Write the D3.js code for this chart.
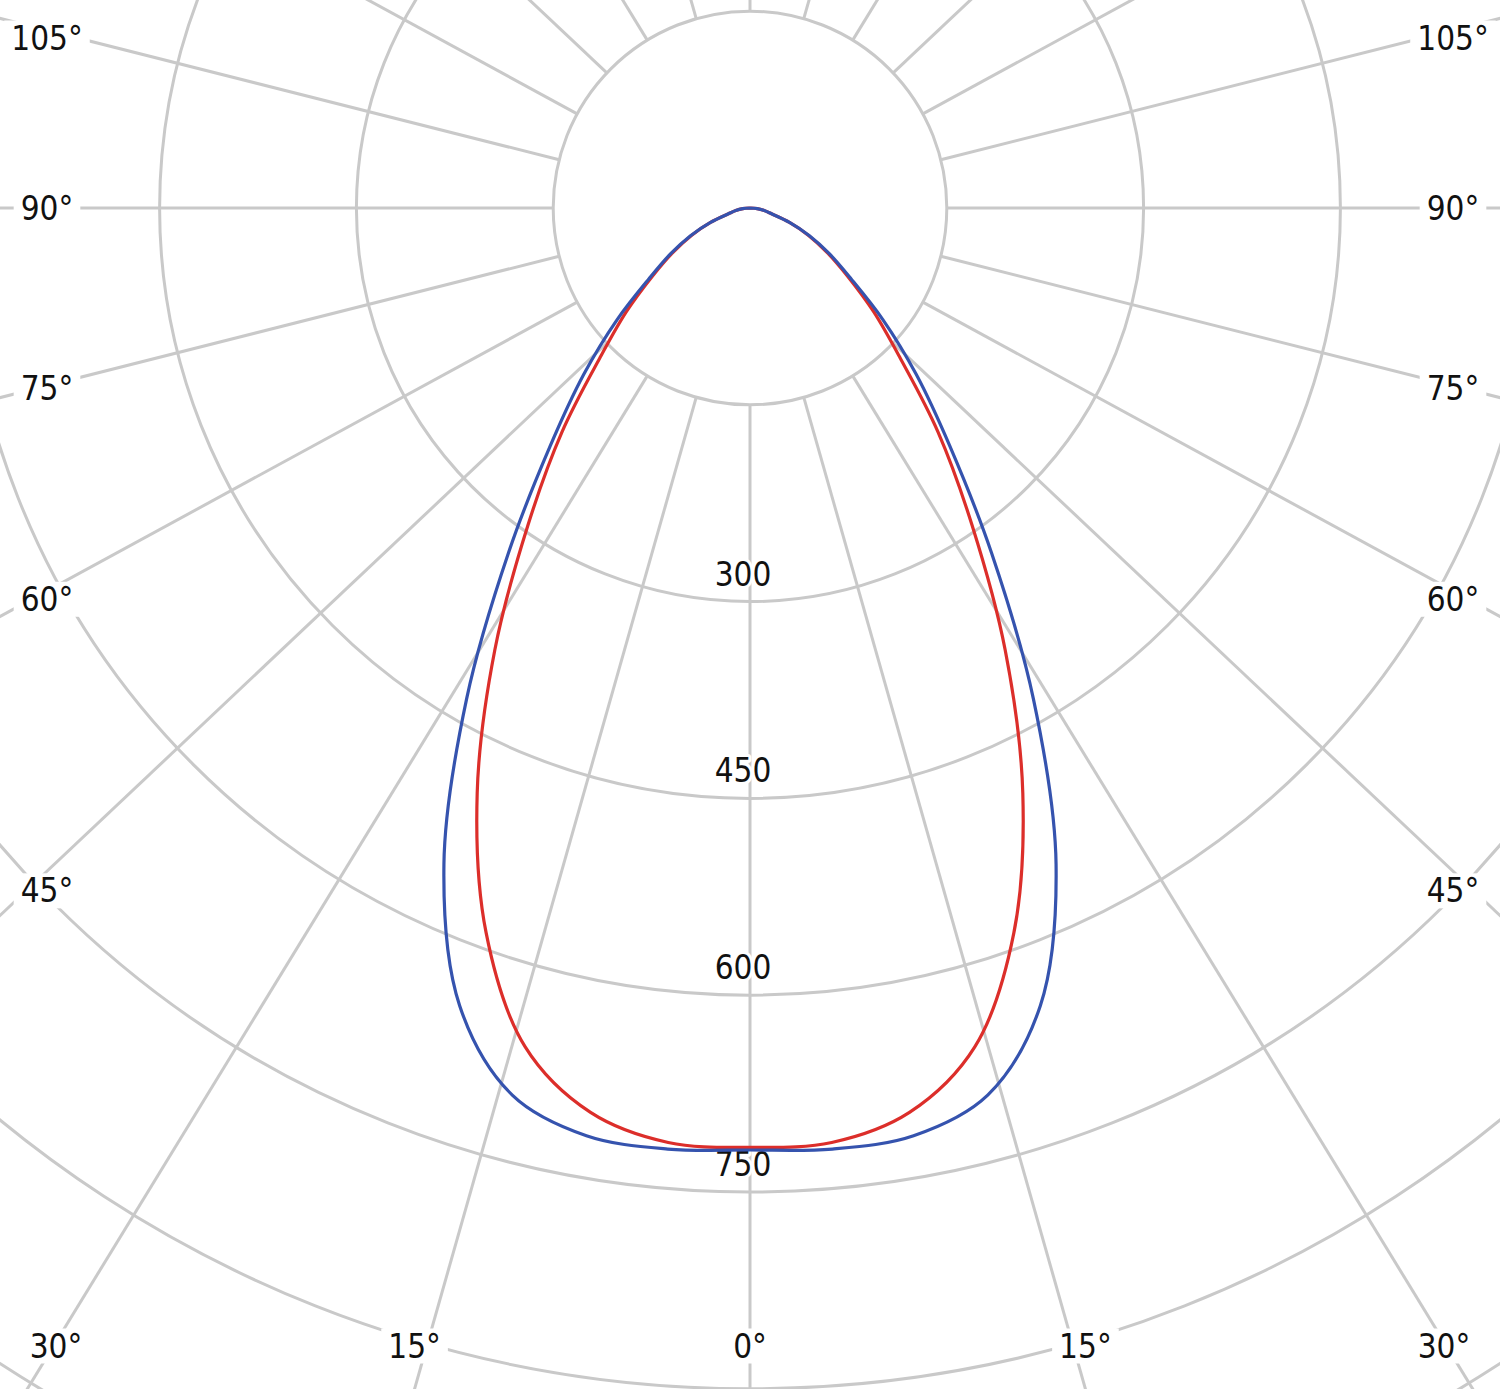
<!DOCTYPE html>
<html>
<head>
<meta charset="utf-8">
<script src="https://cdn.jsdelivr.net/npm/d3@7"></script>
<style>
html,body{margin:0;padding:0;background:#fff;}
svg{display:block;}
text{font-family:"DejaVu Sans Condensed","Liberation Sans",sans-serif;}
</style>
</head>
<body>
<svg id="chart" width="1500" height="1389"></svg>
<script>
// ---- data ----
const gammaAngles = [0,5,10,15,20,25,30,35,40,45,50,55,60,65,70,75,80,85,90];
// C0-C180 plane (blue), cd
const intensityC0 = [718,720,718,700,647,552,432,321,237,179,132,94,70,50,32,17,11,5.5,0];
// C90-C270 plane (red), cd
const intensityC90 = [716,715,700,662,588,492,389,295,223,162,123,91,68,49,32,17,11,5.5,0];
const ringValues = [150,300,450,600,750,900,1050];
const ringLabelValues = [300,450,600,750];
const spokeAngles = d3.range(0,360,15);
const sideLabelAngles = [0,15,30,45,60,75,90,105];

// ---- layout ----
const W = 1500, H = 1389;
const cx = 750, cy = 208;
const r = d3.scaleLinear().domain([0,150]).range([0,196.8]);
const gridColor = "#c9c9c9";
const skew = 1.06; // spoke direction aspect as seen in the reference

const svg = d3.select("#chart");
svg.append("rect").attr("width",W).attr("height",H).attr("fill","#fff");
const g = svg.append("g").attr("transform",`translate(${cx},${cy})`);

// rings
g.append("g").selectAll("circle").data(ringValues).join("circle")
  .attr("r", d => r(d)).attr("fill","none")
  .attr("stroke",gridColor).attr("stroke-width",3);

// spokes: angle measured from the downward vertical, positive to the right
function dir(phiDeg){
  const p = phiDeg*Math.PI/180;
  const dx = skew*Math.sin(p), dy = Math.cos(p);
  const n = Math.hypot(dx,dy);
  return [dx/n, dy/n];
}
const r0 = r(150), rFar = 2200;
g.append("g").selectAll("line").data(spokeAngles).join("line")
  .attr("x1", d => dir(d)[0]*r0).attr("y1", d => dir(d)[1]*r0)
  .attr("x2", d => dir(d)[0]*rFar).attr("y2", d => dir(d)[1]*rFar)
  .attr("stroke",gridColor).attr("stroke-width",3);

// ring labels along the 0° axis
const ringLab = g.append("g");
ringLabelValues.forEach(v => {
  ringLab.append("text")
    .attr("x",-7).attr("y", r(v)-16)
    .attr("text-anchor","middle")
    .attr("font-size",33)
    .attr("fill","#111")
    .attr("stroke","#fff").attr("stroke-width",6)
    .attr("stroke-linejoin","round")
    .attr("paint-order","stroke")
    .text(v);
});

// intensity curves
const line = d3.lineRadial()
  .angle(d => Math.PI - d.phi*Math.PI/180)
  .radius(d => r(d.v))
  .curve(d3.curveCatmullRom.alpha(0.5));
function curvePts(vals){
  const pts = [];
  for (let i = gammaAngles.length-1; i >= 0; i--) pts.push({phi:-gammaAngles[i], v:vals[i]});
  for (let i = 1; i < gammaAngles.length; i++) pts.push({phi:gammaAngles[i], v:vals[i]});
  return pts;
}
g.append("path").attr("d", line(curvePts(intensityC90)))
  .attr("fill","none").attr("stroke","#dc2e2a").attr("stroke-width",3.2)
  .attr("stroke-linejoin","round");
g.append("path").attr("d", line(curvePts(intensityC0)))
  .attr("fill","none").attr("stroke","#3553ae").attr("stroke-width",3.2)
  .attr("stroke-linejoin","round");

// angle labels: where each spoke leaves the frame, pulled inside a margin
const stepIn = 36, padX = 47, bottomY = H - 43, topY = 38, bottomPadX = 56;
function labelPoint(phi){
  const [dx,dy] = dir(phi);
  let t = Infinity, edge = "";
  if (dx < 0 && (0 - cx)/dx < t) { t = (0 - cx)/dx; edge = "side"; }
  if (dx > 0 && (W - cx)/dx < t) { t = (W - cx)/dx; edge = "side"; }
  if (dy > 0 && (H - cy)/dy < t) { t = (H - cy)/dy; edge = "bottom"; }
  if (dy < 0 && (0 - cy)/dy < t) { t = (0 - cy)/dy; edge = "side"; }
  if (edge === "bottom") {
    const x = cx + dx*t;
    return [Math.max(bottomPadX, Math.min(W - bottomPadX, x)), bottomY];
  }
  let x = cx + dx*(t-stepIn), y = cy + dy*(t-stepIn);
  x = Math.max(padX, Math.min(W - padX, x));
  y = Math.max(topY, Math.min(bottomY, y));
  return [x,y];
}
const labs = [];
sideLabelAngles.forEach(a => {
  if (a === 0) labs.push({phi:0, a});
  else { labs.push({phi:-a, a}); labs.push({phi:a, a}); }
});
const labG = svg.append("g");
labs.forEach(d => {
  const [x,y] = labelPoint(d.phi);
  const grp = labG.append("g");
  const t = grp.append("text")
    .attr("x",x).attr("y",y)
    .attr("text-anchor","middle")
    .attr("dominant-baseline","central")
    .attr("font-size",33)
    .attr("fill","#111")
    .text(d.a + "°");
  const b = t.node().getBBox();
  grp.insert("rect","text")
    .attr("x",b.x-7).attr("y",b.y+2)
    .attr("width",b.width+14).attr("height",b.height-4)
    .attr("fill","#fff");
});
</script>
</body>
</html>
